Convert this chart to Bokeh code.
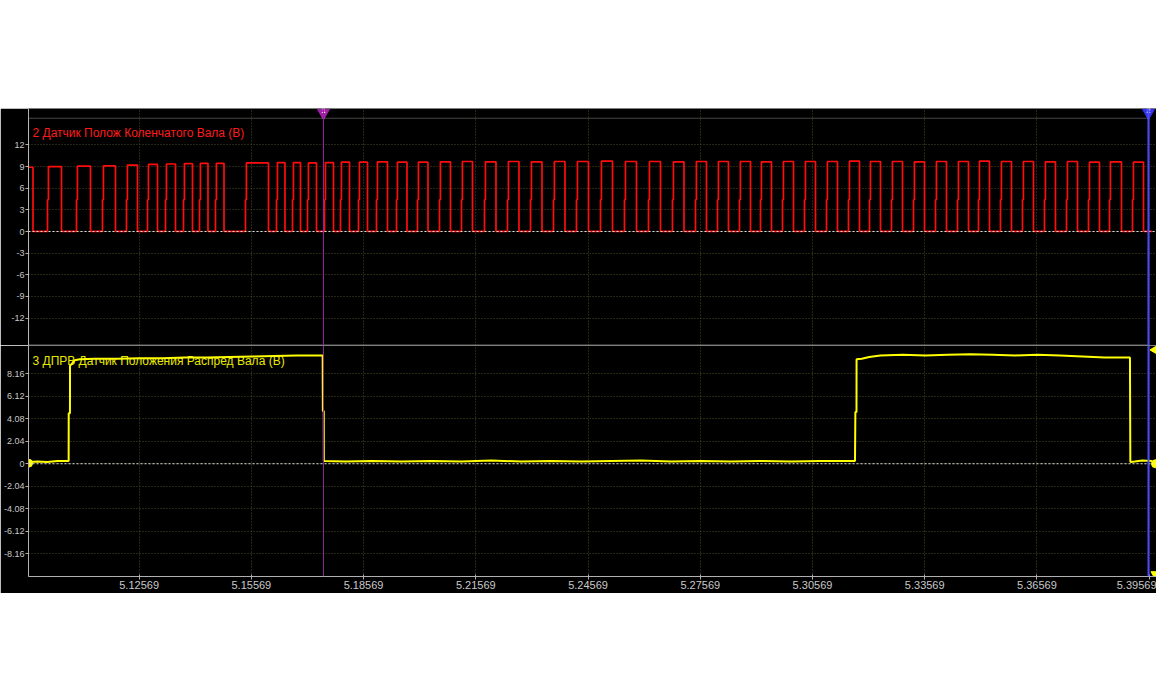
import numpy as np
from bokeh.plotting import figure
from bokeh.layouts import column
from bokeh.models import (Range1d, FixedTicker, CustomJSTickFormatter, Span, Label,
                          BoxAnnotation, Spacer)
from bokeh.embed import file_html
from bokeh.resources import INLINE

# ---------------- data (read from the oscilloscope capture) ----------------
t_origin = 5.09585  # s; the ms values below are relative to this instant

x_ticks = [5.12569, 5.15569, 5.18569, 5.21569, 5.24569, 5.27569,
           5.30569, 5.33569, 5.36569, 5.39569]
crank_ticks = [-12, -9, -6, -3, 0, 3, 6, 9, 12]
cam_ticks = [-8.16, -6.12, -4.08, -2.04, 0, 2.04, 4.08, 6.12, 8.16]

crank_title = "2 Датчик Полож Коленчатого Вала (В)"
cam_title = "3 ДПРВ Датчик Положения Распред Вала (В)"

# crankshaft sensor: rising / falling edge times (ms) and plateau voltage (V)
crank_rise_ms = [-2.0, 5.35, 13.10, 20.05, 26.46, 32.08, 36.89, 41.70, 45.98, 50.25,
                 58.27, 66.56, 70.84, 74.85, 79.39, 83.67, 88.48, 93.29, 98.64, 104.25,
                 110.13, 116.01, 122.16, 128.31, 134.46, 140.60, 146.75, 153.17, 159.58, 166.00,
                 172.41, 178.56, 184.44, 190.32, 195.94, 201.82, 207.70, 213.58, 219.46, 225.08,
                 230.96, 236.84, 242.72, 248.60, 254.21, 260.09, 265.97, 271.85, 277.74, 283.62,
                 289.23, 295.38]
crank_fall_ms = [1.47, 9.09, 16.84, 23.52, 29.40, 34.75, 39.56, 44.11, 48.25, 52.53,
                 64.42, 68.83, 72.98, 77.25, 81.80, 86.07, 90.89, 96.23, 101.44, 107.06,
                 113.07, 118.95, 125.23, 131.38, 137.53, 143.68, 149.96, 156.38, 162.79, 169.21,
                 175.49, 181.50, 187.38, 193.27, 198.88, 204.76, 210.64, 216.52, 222.40, 228.02,
                 233.90, 239.78, 245.66, 251.54, 257.15, 263.03, 268.91, 274.79, 280.68, 286.55,
                 292.44, 298.32]
crank_high_v = [8.9, 9.0, 9.05, 9.1, 9.2, 9.3, 9.35, 9.4, 9.45, 9.45,
                9.5, 9.55, 9.55, 9.5, 9.55, 9.6, 9.6, 9.65, 9.6, 9.6,
                9.65, 9.7, 9.65, 9.7, 9.65, 9.7, 9.7, 9.75, 9.7, 9.7,
                9.65, 9.7, 9.7, 9.7, 9.65, 9.7, 9.7, 9.7, 9.75, 9.7,
                9.7, 9.65, 9.7, 9.7, 9.75, 9.7, 9.7, 9.65, 9.7, 9.6,
                9.65, 9.6]
crank_mid_v = 4.4
crank_low_v = 0.03
crank_end_ms = 300.6

# camshaft sensor samples (ms, V)
cam_t_ms = [0.0, 2.7, 5.3, 8.0, 11.0, 11.02, 11.35, 11.37, 12.6, 14.0, 18.0, 24.0,
            30.0, 36.0, 42.0, 48.0, 54.0, 60.0, 66.0, 72.0, 78.9, 78.95, 79.2, 79.22,
            85.0, 92.0, 100.0, 108.0, 116.0, 124.0, 132.0, 140.0, 148.0, 156.0, 164.0,
            172.0, 180.0, 188.0, 196.0, 204.0, 212.0, 221.2,
            221.3, 221.6, 221.62, 223.0, 225.0, 228.0, 234.0, 240.0, 246.0, 252.0, 258.0,
            264.0, 270.0, 276.0, 282.0, 288.0, 294.7,
            294.8, 296.0, 298.0, 300.6]
cam_v = [0.15, 0.2, 0.15, 0.25, 0.25, 4.6, 4.6, 8.9, 9.4, 9.5, 9.55, 9.55,
         9.6, 9.6, 9.65, 9.65, 9.7, 9.75, 9.8, 9.85, 9.85, 4.8, 4.8, 0.25,
         0.2, 0.25, 0.2, 0.25, 0.2, 0.3, 0.2, 0.25, 0.2, 0.25, 0.3,
         0.2, 0.25, 0.2, 0.25, 0.2, 0.25, 0.25,
         4.7, 4.7, 9.5, 9.55, 9.7, 9.85, 9.9, 9.85, 9.9, 9.95, 9.9,
         9.85, 9.9, 9.85, 9.75, 9.65, 9.65,
         0.15, 0.2, 0.3, 0.25]

cursor1_t = 5.17497
cursor2_t = 5.39550

# ---------------- build traces ----------------
step_ms = 0.25
cx, cy = [], []
for r, f, h in zip(crank_rise_ms, crank_fall_ms, crank_high_v):
    cx += [r, r, r + step_ms, r + step_ms, f, f]
    cy += [crank_low_v, crank_mid_v, crank_mid_v, h, h, crank_low_v]
cx.append(crank_end_ms)
cy.append(crank_low_v)
crank_t = t_origin + np.array(cx) / 1000.0
cam_t = t_origin + np.array(cam_t_ms) / 1000.0

# ---------------- layout ----------------
W = 1156
BORDER_L = 28
px_s = 0.00026731
X0 = 5.09612
X1 = X0 + (W - BORDER_L) * px_s
x_range = Range1d(X0, X1)

GRID_C = "#4d4d24"
LABEL_C = "#c8c8c8"
AXIS_C = "#b0b0b0"
FONT = "Liberation Sans"

ytick_fmt = CustomJSTickFormatter(code="return String(Math.round(tick*100)/100);")
xtick_fmt = CustomJSTickFormatter(code="return tick.toFixed(5);")


def style_common(p, yticks):
    p.background_fill_color = "black"
    p.border_fill_color = "black"
    p.outline_line_color = None
    ax = p.yaxis[0]
    ax.ticker = FixedTicker(ticks=yticks)
    ax.formatter = ytick_fmt
    ax.major_label_text_font_size = "9px"
    ax.major_label_text_font = FONT
    ax.major_label_text_color = LABEL_C
    ax.axis_line_color = AXIS_C
    ax.major_tick_line_color = AXIS_C
    ax.major_tick_out = 3
    ax.major_tick_in = 0
    ax.minor_tick_line_color = None
    ax.major_label_standoff = 1
    p.ygrid.ticker = FixedTicker(ticks=yticks)
    p.xgrid.ticker = FixedTicker(ticks=x_ticks)
    for g in (p.xgrid, p.ygrid):
        g.grid_line_color = GRID_C
        g.grid_line_dash = "1 2"
        g.grid_line_width = 1
    p.add_layout(Span(location=0, dimension="width", line_color="#e0e0e0",
                      line_dash="2 2", line_width=1))


# top panel: crankshaft
p1 = figure(width=W, height=237, x_range=x_range, y_range=Range1d(-15.79, 17.04),
            output_backend="svg", toolbar_location=None, x_axis_location=None,
            min_border_left=BORDER_L, min_border_right=0, min_border_top=0,
            min_border_bottom=0)
style_common(p1, crank_ticks)
p1.add_layout(Label(x=X0 + 4 * px_s, y=13.7, text=crank_title, text_color="#ff1a1a",
                    text_font_size="12px", text_font=FONT, text_baseline="middle",
                    level="underlay"))
p1.line(crank_t, cy, line_color="#ff0d0d", line_width=1.7)
p1.add_layout(BoxAnnotation(left=X0, right=cursor2_t, top=15.69, bottom=-15.70,
                            fill_alpha=0, line_color="#e6e6e6", line_width=1.2))
p1.add_layout(Span(location=cursor1_t, dimension="height", line_color="#9b1fa0", line_width=1))
p1.add_layout(Span(location=cursor2_t, dimension="height", line_color="#4848ff", line_width=2))
p1.scatter([cursor1_t, cursor2_t], [16.45, 16.45], marker="inverted_triangle", size=12,
           color=["#a020a8", "#3434e8"])
p1.text([cursor1_t, cursor2_t], [16.75, 16.75], text=["1", "2"], text_color="white",
        text_font_size="7px", text_font_style="bold", text_align="center",
        text_baseline="middle")

# bottom panel: camshaft
p2 = figure(width=W, height=248, x_range=x_range, y_range=Range1d(-10.25, 10.75),
            output_backend="svg", toolbar_location=None,
            min_border_left=BORDER_L, min_border_right=0, min_border_top=0,
            min_border_bottom=17)
style_common(p2, cam_ticks)
xa = p2.xaxis[0]
xa.ticker = FixedTicker(ticks=x_ticks)
xa.formatter = xtick_fmt
xa.major_label_text_font_size = "11px"
xa.major_label_text_font = FONT
xa.major_label_text_color = LABEL_C
xa.axis_line_color = AXIS_C
xa.major_tick_line_color = AXIS_C
xa.major_tick_out = 3
xa.major_tick_in = 2
xa.minor_tick_line_color = None
xa.major_label_standoff = 1
p2.add_layout(Label(x=X0 + 4 * px_s, y=9.3, text=cam_title, text_color="#e8e800",
                    text_font_size="12px", text_font=FONT, text_baseline="middle",
                    level="underlay"))
p2.line(cam_t, cam_v, line_color="#ffff00", line_width=2)
p2.scatter([cam_t[0] + 1 * px_s], [0.05], marker="circle", size=8, color="#ffff00")
p2.add_layout(Span(location=cursor1_t, dimension="height", line_color="#8a2a90", line_width=1))
p2.add_layout(Span(location=cursor2_t, dimension="height", line_color="#4848ff", line_width=2))
p2.scatter([X1 - 2 * px_s], [10.35], marker="triangle", angle=np.pi / 2, size=8, color="#ffff00")
p2.scatter([X1 - 1 * px_s], [0.0], marker="circle", size=8, color="#ffff00")
p2.scatter([X1 - 2 * px_s], [-10.0], marker="inverted_triangle", size=7, color="#ffff00")

layout = column(Spacer(width=W, height=108), p1, p2,
                styles={"position": "absolute", "left": "0px", "top": "0px"})

open("out.html", "w").write(file_html(layout, INLINE))
